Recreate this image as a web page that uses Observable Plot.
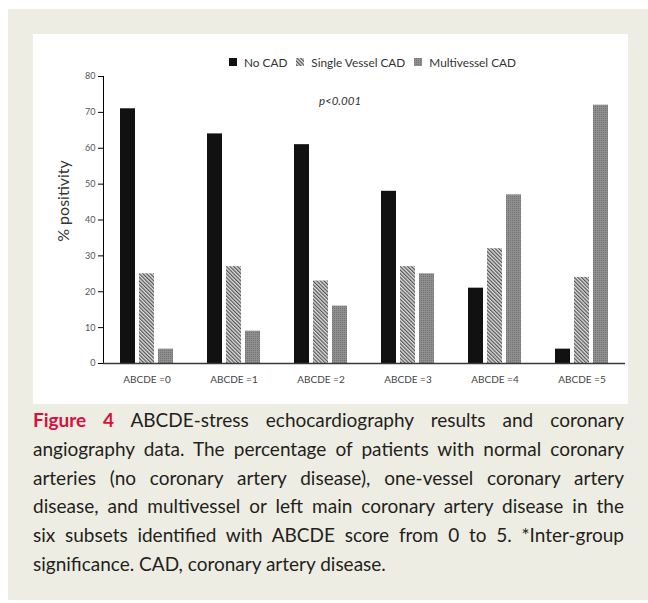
<!DOCTYPE html>
<html>
<head>
<meta charset="utf-8">
<script src="https://cdn.jsdelivr.net/npm/d3@7"></script>
<script src="https://cdn.jsdelivr.net/npm/@observablehq/plot@0.6"></script>
<style>
  html, body { margin: 0; padding: 0; background: #ffffff; }
  body { width: 648px; height: 603px; position: relative; overflow: hidden; font-family: Lato, "Open Sans", sans-serif; }
  #beige { position: absolute; left: 8px; top: 9px; width: 640px; height: 591px; background: #eeede3; }
  #panel { position: absolute; left: 33px; top: 34px; width: 595px; height: 370px; background: #ffffff; }
  #legend { position: absolute; left: 132px; top: 44px; width: 490px; height: 36px; }
  #chart { position: absolute; left: 33px; top: 70px; }
  .leg-swatches-wrap, .leg-swatches { display: flex; justify-content: center; align-items: center; min-height: 36px; margin: 0 !important; font-family: Lato, sans-serif !important; font-size: 11.8px !important; color: #333 !important; }
  .leg-swatch { margin-right: 9px !important; }
  .leg-swatch > svg { margin-right: 7px !important; }
  #chart [aria-label="y-axis label"], #chart [aria-label="y-axis label"] text { font-size: 16px !important; fill: #333; }
  #chart [aria-label="y-axis label"] { translate: 0px -19px; }
  #chart [aria-label="y-axis tick label"] { fill: #555; font-size: 9px; }
  #chart [aria-label="y-axis tick"] { stroke: #333; }
  #caption { position: absolute; left: 33px; top: 406px; width: 591px; font-family: Lato, sans-serif; font-size: 19px; line-height: 28.8px; color: #231f20; }
  #caption span.l { display: block; white-space: nowrap; text-align: justify; text-align-last: justify; }
  #caption span.last { display: block; white-space: nowrap; }
  #caption b { color: #d3123e; font-weight: 700; }
</style>
</head>
<body>
<svg width="0" height="0" style="position:absolute">
  <defs>
    <pattern id="hatch-single" patternUnits="userSpaceOnUse" width="2.6" height="2.6" patternTransform="rotate(-45)">
      <rect width="2.6" height="2.6" fill="#dcdcdc"></rect>
      <rect width="1.2" height="2.6" fill="#555555"></rect>
    </pattern>
    <pattern id="dots-multi" patternUnits="userSpaceOnUse" width="2" height="2">
      <rect width="2" height="2" fill="#8f8f8f"></rect>
      <rect width="1" height="1" fill="#727272"></rect>
    </pattern>
  </defs>
</svg>
<div id="beige"></div>
<div id="panel"></div>
<div id="legend"></div>
<div id="chart"></div>
<div id="caption">
  <span class="l"><b>Figure 4</b> ABCDE-stress echocardiography results and coronary</span>
  <span class="l">angiography data. The percentage of patients with normal coronary</span>
  <span class="l">arteries (no coronary artery disease), one-vessel coronary artery</span>
  <span class="l">disease, and multivessel or left main coronary artery disease in the</span>
  <span class="l">six subsets identified with ABCDE score from 0 to 5. *Inter-group</span>
  <span class="last">significance. CAD, coronary artery disease.</span>
</div>
<script>
const groups = ["ABCDE =0", "ABCDE =1", "ABCDE =2", "ABCDE =3", "ABCDE =4", "ABCDE =5"];
const series = ["No CAD", "Single Vessel CAD", "Multivessel CAD"];
const noCAD = [71, 64, 61, 48, 21, 4];
const singleVessel = [25, 27, 23, 27, 32, 24];
const multivessel = [4, 9, 16, 25, 47, 72];
const yTicks = [0, 10, 20, 30, 40, 50, 60, 70, 80];
const seriesFills = ["#111111", "url(#hatch-single)", "url(#dots-multi)"];
const annotation = [{group: "ABCDE =2", series: "Multivessel CAD", value: 73, label: "p<0.001"}];

const rows = groups.flatMap((g, i) => [
  {group: g, series: series[0], value: noCAD[i]},
  {group: g, series: series[1], value: singleVessel[i]},
  {group: g, series: series[2], value: multivessel[i]}
]);

const colorScale = {domain: series, range: seriesFills};

const chart = Plot.plot({
  width: 595,
  height: 334,
  marginLeft: 69,
  marginRight: 2,
  marginTop: 6,
  marginBottom: 41,
  style: {fontFamily: "Lato, sans-serif", fontSize: "9px", background: "transparent", overflow: "visible"},
  fx: {domain: groups, padding: 0, axis: null},
  x: {domain: series, paddingInner: 0.2, paddingOuter: 0.8, axis: null},
  y: {domain: [0, 80], ticks: yTicks, tickSize: 5, tickPadding: 3, line: true,
      label: "% positivity", labelAnchor: "center", labelOffset: 46, labelArrow: "none"},
  color: colorScale,
  marks: [
    Plot.barY(rows, {fx: "group", x: "series", y: "value", fill: "series"}),
    Plot.ruleY([0], {stroke: "#3a3a3a", strokeWidth: 1.5}),
    Plot.axisFx({anchor: "bottom", tickSize: 0, tickPadding: 12, fontSize: 10, label: null, color: "#444"}),
    Plot.text(annotation, {fx: "group", x: "series", y: "value", text: "label", fontStyle: "italic", fontSize: 11.5, fill: "#333"})
  ]
});
document.getElementById("chart").appendChild(chart);

const legend = Plot.legend({color: colorScale, legend: "swatches", swatchSize: 8, className: "leg"});
document.getElementById("legend").appendChild(legend);
</script>
</body>
</html>
